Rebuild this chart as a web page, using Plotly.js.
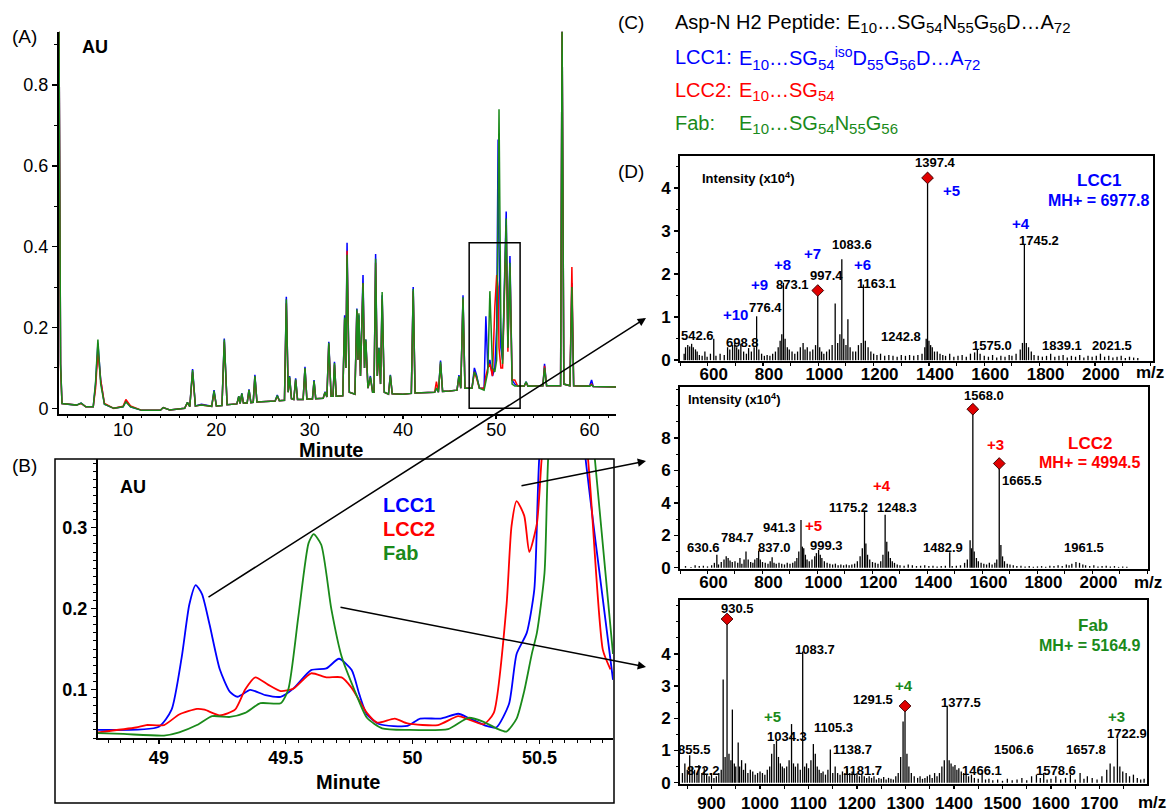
<!DOCTYPE html>
<html><head><meta charset="utf-8">
<script src="https://cdn.plot.ly/plotly-3.0.1.min.js"></script>
<style>html,body{margin:0;padding:0;background:#fff;}#chart{width:1168px;height:812px;}</style>
</head><body><div id="chart"></div>
<script>
// ---------- Panel A: full chromatogram (minute, AU) ----------
const chromTime = [3.13,3.30,3.45,4.0,5.0,5.5,6.0,6.8,7.05,7.3,7.6,8.0,9.0,10.0,10.3,10.8,12.0,14.0,14.3,15.0,16.6,16.9,17.15,17.45,17.75,18.4,19.5,19.75,20.0,20.6,20.85,21.15,22.2,22.4,22.55,22.73,22.9,23.3,23.5,23.7,23.95,24.13,24.35,26.3,26.53,26.75,27.3,27.5,27.7,27.85,28.05,28.3,28.5,28.7,29.3,29.5,29.7,30.3,30.47,30.65,31.45,31.65,31.85,32.05,32.3,32.5,32.66,32.85,33.55,33.75,33.88,34.01,34.25,34.85,35.06,35.18,35.28,35.45,35.72,35.88,36.02,36.25,36.51,36.75,36.9,37.07,37.25,37.43,37.6,37.77,38.0,38.45,38.65,38.85,40.0,40.9,41.1,41.3,43.4,43.59,43.8,44.03,44.25,45.0,45.8,46.0,46.2,46.44,46.65,47.4,47.66,47.88,48.2,48.7,48.89,49.1,49.32,49.6,49.85,50.05,50.2,50.3,50.5,50.68,51.07,51.25,51.47,51.7,51.99,52.3,53.0,53.2,53.4,55.0,55.18,55.4,56.9,57.06,57.25,57.9,58.11,58.3,60.0,60.22,60.4,62.84];
const chromLCC1 = [0.95,0.11,0.012,0.01,0.008,0.013,0.004,0.004,0.06,0.16,0.07,0.01,0.0,0.004,0.018,0.004,-0.005,-0.005,0.002,-0.004,0.0,0.015,0.004,0.097,0.006,0.01,0.005,0.045,0.006,0.007,0.173,0.009,0.011,0.03,0.012,0.037,0.013,0.013,0.047,0.014,0.015,0.083,0.016,0.018,0.033,0.019,0.02,0.276,0.04,0.08,0.024,0.022,0.074,0.022,0.022,0.103,0.023,0.023,0.07,0.024,0.025,0.041,0.028,0.165,0.03,0.03,0.115,0.03,0.031,0.23,0.1,0.41,0.04,0.035,0.247,0.12,0.23,0.08,0.33,0.1,0.17,0.05,0.08,0.04,0.04,0.382,0.08,0.15,0.06,0.28,0.04,0.035,0.083,0.036,0.035,0.037,0.3,0.038,0.04,0.05,0.04,0.118,0.042,0.043,0.045,0.082,0.05,0.28,0.05,0.05,0.1,0.083,0.05,0.05,0.228,0.1,0.12,0.08,0.1,0.2,0.665,0.4,0.15,0.12,0.487,0.15,0.377,0.07,0.06,0.055,0.055,0.066,0.055,0.056,0.11,0.056,0.056,0.95,0.06,0.056,0.31,0.056,0.055,0.07,0.054,0.053];
const chromLCC2 = [0.95,0.10,0.012,0.01,0.008,0.012,0.004,0.004,0.05,0.14,0.07,0.012,0.0,0.005,0.022,0.006,-0.005,-0.005,0.002,-0.004,0.0,0.014,0.004,0.09,0.006,0.008,0.005,0.04,0.006,0.007,0.165,0.009,0.011,0.028,0.012,0.035,0.013,0.013,0.045,0.014,0.015,0.078,0.016,0.018,0.03,0.019,0.02,0.26,0.04,0.075,0.024,0.022,0.07,0.022,0.022,0.098,0.023,0.023,0.066,0.024,0.025,0.04,0.028,0.158,0.03,0.03,0.108,0.03,0.031,0.22,0.1,0.39,0.04,0.035,0.24,0.12,0.22,0.08,0.31,0.1,0.165,0.05,0.075,0.04,0.04,0.36,0.08,0.14,0.06,0.27,0.04,0.035,0.08,0.036,0.035,0.037,0.29,0.038,0.04,0.066,0.04,0.11,0.042,0.043,0.045,0.078,0.05,0.27,0.05,0.05,0.09,0.075,0.05,0.05,0.08,0.1,0.11,0.08,0.25,0.33,0.3,0.15,0.1,0.1,0.45,0.14,0.35,0.07,0.07,0.055,0.055,0.064,0.055,0.056,0.105,0.056,0.056,0.95,0.06,0.056,0.35,0.056,0.055,0.06,0.054,0.053];
const chromFab  = [0.95,0.11,0.012,0.01,0.008,0.013,0.004,0.004,0.065,0.17,0.06,0.01,0.0,0.004,0.016,0.004,-0.005,-0.005,0.002,-0.004,0.0,0.015,0.004,0.095,0.006,0.008,0.005,0.043,0.006,0.007,0.17,0.009,0.011,0.03,0.012,0.037,0.013,0.013,0.046,0.014,0.015,0.08,0.016,0.018,0.032,0.019,0.02,0.27,0.04,0.078,0.024,0.022,0.072,0.022,0.022,0.1,0.023,0.023,0.068,0.024,0.025,0.04,0.028,0.162,0.03,0.03,0.112,0.03,0.031,0.225,0.1,0.38,0.04,0.035,0.245,0.12,0.235,0.08,0.31,0.1,0.17,0.05,0.078,0.04,0.04,0.37,0.08,0.15,0.06,0.288,0.04,0.035,0.082,0.036,0.035,0.037,0.295,0.038,0.04,0.05,0.04,0.115,0.042,0.043,0.045,0.08,0.05,0.275,0.05,0.05,0.09,0.08,0.05,0.045,0.07,0.09,0.29,0.1,0.09,0.12,0.5,0.74,0.2,0.11,0.47,0.15,0.36,0.06,0.055,0.055,0.055,0.066,0.055,0.056,0.1,0.056,0.056,0.95,0.06,0.056,0.3,0.056,0.055,0.058,0.054,0.053];

// ---------- Panel B: zoomed region (minute, AU) ----------
const zoomTimeLCC1 = [48.76,49.0,49.05,49.09,49.12,49.145,49.17,49.2,49.24,49.28,49.31,49.36,49.42,49.48,49.53,49.6,49.66,49.71,49.76,49.79,49.82,49.87,49.98,50.03,50.11,50.18,50.22,50.29,50.33,50.38,50.41,50.45,50.48,50.5,50.59,50.68,50.72,50.79];
const zoomAuLCC1   = [0.050,0.054,0.075,0.14,0.205,0.229,0.218,0.18,0.125,0.097,0.091,0.0995,0.093,0.091,0.101,0.124,0.126,0.138,0.124,0.094,0.069,0.057,0.055,0.064,0.064,0.07,0.065,0.055,0.053,0.082,0.144,0.17,0.224,0.39,0.665,0.39,0.286,0.112];
const zoomTimeLCC2 = [48.76,48.91,48.95,49.02,49.08,49.15,49.18,49.24,49.3,49.34,49.38,49.43,49.48,49.53,49.6,49.66,49.72,49.76,49.82,49.86,49.93,49.98,50.1,50.18,50.22,50.28,50.32,50.37,50.39,50.41,50.44,50.46,50.49,50.51,50.59,50.69,50.75,50.78];
const zoomAuLCC2   = [0.047,0.053,0.056,0.056,0.069,0.076,0.075,0.068,0.075,0.1,0.115,0.106,0.098,0.101,0.12,0.115,0.115,0.102,0.071,0.059,0.064,0.058,0.056,0.067,0.063,0.057,0.071,0.203,0.302,0.333,0.315,0.27,0.305,0.39,0.62,0.39,0.149,0.125];
const zoomTimeFab  = [48.76,48.86,49.02,49.08,49.15,49.21,49.28,49.34,49.4,49.48,49.51,49.55,49.59,49.61,49.64,49.68,49.72,49.77,49.82,49.88,49.98,50.14,50.22,50.28,50.33,50.37,50.41,50.44,50.47,50.49,50.52,50.535,50.62,50.717,50.79];
const zoomAuFab    = [0.046,0.045,0.043,0.047,0.056,0.067,0.066,0.071,0.083,0.083,0.1,0.191,0.281,0.292,0.279,0.199,0.141,0.1,0.065,0.052,0.05,0.051,0.065,0.06,0.052,0.048,0.064,0.098,0.144,0.17,0.244,0.39,0.74,0.39,0.144];

// ---------- Panel D: MS spectra (m/z, intensity) ----------
const msLCC1Mz  = [515,520,528,535,542,548,556,562,570,580,590,598,610,622,630,645,660,672,680,690,698,705,712,720,730,740,748,758,768,777,785,795,805,815,825,835,845,855,862,868,874,880,888,895,905,915,925,935,945,952,960,970,980,990,998,1005,1012,1020,1030,1040,1050,1061,1070,1078,1085,1092,1100,1107,1115,1125,1135,1145,1155,1163,1170,1180,1190,1200,1212,1225,1240,1255,1270,1285,1300,1315,1330,1345,1360,1375,1385,1390,1395,1400,1406,1412,1420,1430,1440,1450,1460,1475,1490,1505,1520,1535,1550,1565,1575,1585,1600,1615,1630,1645,1660,1675,1690,1700,1715,1730,1738,1745,1752,1760,1770,1780,1795,1810,1825,1840,1855,1870,1885,1900,1915,1930,1945,1960,1975,1990,2005,2020,2035,2050,2065,2080,2095,2110,2125,2140,2155];
const msLCC1Int = [0.15,0.3,0.35,0.32,0.38,0.3,0.25,0.2,0.12,0.1,0.2,0.08,0.15,0.5,0.1,0.15,0.12,0.3,0.25,0.35,0.4,0.3,0.25,0.38,0.2,0.15,0.28,0.2,0.3,1.02,0.25,0.15,0.1,0.12,0.1,0.15,0.2,0.3,0.45,0.6,1.8,0.5,0.3,0.25,0.2,0.15,0.2,0.3,0.4,0.25,0.3,0.2,0.25,0.35,1.62,0.3,0.2,0.15,0.2,0.25,0.35,1.32,0.4,0.6,2.35,0.5,0.35,0.95,0.3,0.2,0.2,0.35,0.4,1.76,0.45,0.3,0.2,0.15,0.12,0.15,0.1,0.12,0.1,0.08,0.12,0.1,0.12,0.1,0.12,0.15,0.3,0.5,4.24,0.45,0.35,0.3,0.2,0.2,0.15,0.12,0.1,0.15,0.08,0.1,0.12,0.08,0.15,0.18,0.25,0.15,0.1,0.08,0.12,0.06,0.1,0.08,0.12,0.1,0.15,0.25,0.4,2.68,0.4,0.3,0.2,0.12,0.1,0.08,0.1,0.15,0.08,0.1,0.12,0.06,0.1,0.08,0.12,0.06,0.1,0.08,0.1,0.15,0.08,0.1,0.06,0.08,0.1,0.05,0.08,0.06,0.05];
const msLCC2Mz  = [520,540,555,570,585,600,615,625,634,640,650,660,668,675,682,690,700,710,718,725,733,740,748,757,765,772,780,786,792,800,810,820,828,835,842,850,860,870,880,890,900,910,918,925,932,940,945,950,956,962,970,980,990,996,1004,1010,1016,1025,1035,1045,1055,1065,1075,1085,1095,1105,1115,1125,1135,1145,1155,1163,1171,1176,1182,1190,1200,1210,1220,1230,1238,1246,1252,1258,1265,1272,1280,1290,1300,1315,1330,1345,1360,1375,1390,1405,1420,1435,1450,1465,1481,1490,1505,1520,1535,1545,1555,1560,1565,1570,1578,1585,1595,1605,1615,1625,1635,1645,1652,1661,1667,1673,1680,1690,1700,1712,1725,1740,1755,1770,1785,1800,1815,1830,1845,1860,1875,1890,1905,1915,1925,1940,1953,1965,1975,1990,2005,2020,2035,2050,2065,2080,2095,2110,2125];
const msLCC2Int = [0.1,0.05,0.15,0.1,0.12,0.08,0.15,0.3,0.8,0.2,0.35,0.5,0.7,0.6,0.45,0.35,0.4,0.3,0.6,0.25,0.5,1.0,0.5,0.35,0.3,0.5,0.6,1.05,0.5,0.35,0.3,0.25,0.4,0.65,0.3,0.25,0.3,0.25,0.2,0.3,0.25,0.3,0.4,0.6,1.0,2.95,1.3,1.2,0.8,0.5,0.4,0.5,0.7,0.9,1.1,0.8,0.6,0.4,0.3,0.25,0.2,0.25,0.15,0.2,0.15,0.2,0.15,0.2,0.25,0.4,0.7,1.2,3.52,1.5,0.8,0.5,0.35,0.3,0.25,0.4,0.8,3.27,1.6,1.0,0.6,0.4,0.3,0.2,0.15,0.12,0.2,0.15,0.1,0.12,0.15,0.1,0.12,0.08,0.1,0.12,0.95,0.1,0.12,0.15,0.3,0.5,1.7,1.2,9.78,1.0,0.6,0.4,0.3,0.25,0.2,0.3,0.2,0.3,0.5,6.43,1.4,0.7,0.4,0.25,0.2,0.15,0.1,0.12,0.08,0.1,0.06,0.08,0.1,0.06,0.12,0.1,0.15,0.1,0.2,0.15,0.25,0.35,0.3,0.2,0.15,0.1,0.15,0.08,0.1,0.12,0.08,0.1,0.05,0.08,0.06];
const msFabMz   = [840,845,850,855,860,865,870,874,880,885,890,895,900,905,910,915,920,924,928,932,936,940,943,947,950,955,958,962,966,970,975,980,985,990,995,1000,1005,1010,1015,1020,1024,1029,1034,1038,1042,1046,1050,1055,1060,1065,1069,1073,1078,1083,1088,1092,1096,1100,1105,1110,1114,1118,1122,1126,1130,1135,1140,1145,1150,1155,1160,1165,1170,1175,1180,1185,1190,1195,1200,1205,1210,1215,1220,1225,1230,1235,1240,1245,1250,1255,1260,1265,1270,1275,1280,1285,1290,1295,1299,1303,1307,1312,1318,1325,1330,1335,1340,1345,1350,1355,1360,1365,1370,1375,1380,1386,1390,1394,1398,1402,1406,1410,1415,1420,1425,1430,1436,1442,1450,1458,1465,1472,1480,1490,1500,1510,1520,1530,1540,1550,1560,1570,1578,1585,1592,1600,1610,1620,1630,1640,1650,1660,1668,1675,1685,1695,1705,1715,1722,1730,1737,1742,1748,1755,1762,1770,1778,1785,1792];
const msFabInt  = [0.3,0.6,0.4,0.85,0.5,0.4,0.3,0.55,0.3,0.45,0.25,0.2,0.3,0.15,0.2,0.3,0.4,3.2,0.8,5.08,0.9,0.7,2.27,0.6,0.5,1.25,0.5,0.7,0.4,0.6,0.3,0.4,0.35,0.25,0.3,0.35,0.3,0.25,0.4,0.5,0.9,1.2,1.3,0.8,0.6,0.5,0.45,0.5,0.7,1.82,0.6,0.5,0.6,0.4,4.07,0.5,0.6,0.45,0.7,1.2,0.9,0.5,0.4,0.3,0.35,0.25,0.4,1.03,0.3,0.5,0.3,0.25,0.35,0.3,0.45,0.3,0.35,0.25,0.3,0.2,0.25,0.2,0.15,0.2,0.15,0.2,0.1,0.15,0.12,0.18,0.1,0.15,0.12,0.1,0.2,0.3,0.8,1.9,2.38,0.9,0.5,0.3,0.2,0.15,0.2,0.12,0.15,0.2,0.25,0.15,0.3,0.2,0.3,0.5,0.7,2.36,0.7,0.6,0.5,0.55,0.4,0.45,0.35,0.3,0.25,0.2,0.25,0.15,0.12,0.3,0.1,0.12,0.08,0.1,0.06,0.12,0.08,0.1,0.15,0.08,0.2,0.25,0.15,0.3,0.1,0.12,0.2,0.1,0.15,0.25,0.1,0.3,0.12,0.2,0.15,0.1,0.2,0.4,0.6,0.5,1.38,0.5,0.35,0.3,0.2,0.25,0.15,0.1,0.12];

// marked (diamond) peaks
const markLCC1Mz = [998,1395], markLCC1Int = [1.62,4.24];
const markLCC2Mz = [1565,1661], markLCC2Int = [9.78,6.43];
const markFabMz  = [932,1299], markFabInt  = [5.08,2.38];

// peak labels (text, m/z, intensity where label sits)
const lblLCC1Text = ['1397.4','1083.6','997.4','1163.1','873.1','776.4','542.6','698.8','1242.8','1575.0','1839.1','2021.5','1745.2'];
const lblLCC1Mz   = [1422,1121,1028,1210,907,810,562,725,1298,1627,1881,2063,1797];
const lblLCC1Int  = [4.6,2.68,1.98,1.78,1.76,1.23,0.58,0.4,0.56,0.35,0.35,0.35,2.78];
const chgLCC1Text = ['+10','+9','+8','+7','+6','+5','+4'];
const chgLCC1Mz   = [699,788,871,980,1161,1480,1734];
const chgLCC1Int  = [1.06,1.76,2.23,2.48,2.23,3.95,3.18];

const lblLCC2Text = ['1568.0','1665.5','1175.2','1248.3','941.3','784.7','630.6','837.0','999.3','1482.9','1961.5'];
const lblLCC2Mz   = [1604,1744,1111,1288,863,710,585,844,1034,1455,1971];
const lblLCC2Int  = [10.6,5.37,3.72,3.72,2.5,1.88,1.26,1.26,1.36,1.26,1.26];
const chgLCC2Text = ['+3','+4','+5'];
const chgLCC2Mz   = [1647,1234,985];
const chgLCC2Int  = [7.62,5.06,2.59];

const lblFabText = ['930.5','1083.7','1105.3','1034.3','1138.7','855.5','872.2','1181.7','1291.5','1377.5','1466.1','1506.6','1657.8','1578.6','1722.9'];
const lblFabMz   = [954,1113,1152,1055,1190,864,884,1212,1233,1415,1457,1523,1672,1610,1756];
const lblFabInt  = [5.42,4.14,1.72,1.43,1.03,1.03,0.39,0.39,2.57,2.49,0.39,1.03,1.03,0.39,1.53];
const chgFabText = ['+5','+4','+3'];
const chgFabMz   = [1025,1297,1735];
const chgFabInt  = [2.05,3.03,2.05];

// ---------- drawing ----------
const W = 1168, H = 812;
const BLUE = '#0000ff', RED = '#ff0000', GREEN = '#1a8a1a';
const FONT = 'Liberation Sans, Arial, sans-serif';
const px = x => x / W, py = y => 1 - y / H;

function sticks(mz, inten) {
  const x = [], y = [];
  for (let i = 0; i < mz.length; i++) { x.push(mz[i], mz[i], null); y.push(0, inten[i], null); }
  return {x, y};
}

const traces = [];
[[chromLCC1, BLUE], [chromLCC2, RED], [chromFab, GREEN]].forEach(([v, c]) => {
  traces.push({x: chromTime, y: v, type: 'scatter', mode: 'lines', line: {color: c, width: 1.5}, xaxis: 'x', yaxis: 'y', hoverinfo: 'skip'});
});
[[zoomTimeLCC1, zoomAuLCC1, BLUE], [zoomTimeLCC2, zoomAuLCC2, RED], [zoomTimeFab, zoomAuFab, GREEN]].forEach(([t, v, c]) => {
  traces.push({x: t, y: v, type: 'scatter', mode: 'lines', line: {color: c, width: 1.8, shape: 'spline', smoothing: 0.6}, xaxis: 'x2', yaxis: 'y2', hoverinfo: 'skip'});
});
[[msLCC1Mz, msLCC1Int, markLCC1Mz, markLCC1Int, 3], [msLCC2Mz, msLCC2Int, markLCC2Mz, markLCC2Int, 4], [msFabMz, msFabInt, markFabMz, markFabInt, 5]].forEach(([mz, it, mmz, mit, k]) => {
  const s = sticks(mz, it);
  traces.push({x: s.x, y: s.y, type: 'scatter', mode: 'lines', line: {color: '#000', width: 1.3}, xaxis: 'x' + k, yaxis: 'y' + k, hoverinfo: 'skip', connectgaps: false});
  traces.push({x: mmz, y: mit, type: 'scatter', mode: 'markers', marker: {symbol: 'diamond', size: 9, color: '#e00000', line: {color: '#400000', width: 1}}, xaxis: 'x' + k, yaxis: 'y' + k, hoverinfo: 'skip'});
});

const annotations = [];
function txt(x, y, text, opts) {
  annotations.push(Object.assign({xref: 'paper', yref: 'paper', x: px(x), y: py(y), text: text, showarrow: false, xanchor: 'left', yanchor: 'middle',
    font: {family: FONT, size: 18, color: '#000'}}, opts || {}));
}
txt(10, 37, '(A)', {font: {family: FONT, size: 19, color: '#000'}});
txt(10, 465, '(B)', {font: {family: FONT, size: 19, color: '#000'}});
txt(616, 22, '(C)', {font: {family: FONT, size: 19, color: '#000'}});
txt(616, 171, '(D)', {font: {family: FONT, size: 19, color: '#000'}});
txt(95, 47, 'AU', {xanchor: 'center', font: {family: FONT, size: 18, color: '#000', weight: 'bold'}});
txt(331, 450, 'Minute', {xanchor: 'center', font: {family: FONT, size: 20, color: '#000', weight: 'bold'}});
txt(133, 487, 'AU', {xanchor: 'center', font: {family: FONT, size: 18, color: '#000', weight: 'bold'}});
txt(348, 782, 'Minute', {xanchor: 'center', font: {family: FONT, size: 20, color: '#000', weight: 'bold'}});
txt(381, 505, 'LCC1', {font: {family: FONT, size: 20, color: BLUE, weight: 'bold'}});
txt(381, 529, 'LCC2', {font: {family: FONT, size: 20, color: RED, weight: 'bold'}});
txt(381, 553, 'Fab', {font: {family: FONT, size: 20, color: GREEN, weight: 'bold'}});
// Panel C
const cf = c => ({family: FONT, size: 20, color: c});
const sb = s => '<sub><span style="font-size:15px">' + s + '</span></sub>';
const sp = s => '<sup><span style="font-size:14px">' + s + '</span></sup>';
const EL = '\u2026';
txt(673, 22, 'Asp-N H2 Peptide:', {font: cf('#000')});
txt(845, 24, 'E' + sb('10') + EL + 'SG' + sb('54') + 'N' + sb('55') + 'G' + sb('56') + 'D' + EL + 'A' + sb('72'), {font: cf('#000')});
txt(673, 57, 'LCC1:', {font: cf(BLUE)});
txt(737, 59, 'E' + sb('10') + EL + 'SG' + sb('54') + sp('iso') + 'D' + sb('55') + 'G' + sb('56') + 'D' + EL + 'A' + sb('72'), {font: cf(BLUE)});
txt(673, 90, 'LCC2:', {font: cf(RED)});
txt(737, 92, 'E' + sb('10') + EL + 'SG' + sb('54'), {font: cf(RED)});
txt(673, 123, 'Fab:', {font: cf(GREEN)});
txt(737, 125, 'E' + sb('10') + EL + 'SG' + sb('54') + 'N' + sb('55') + 'G' + sb('56'), {font: cf(GREEN)});
// Panel D headers
txt(700, 178, 'Intensity (x10<sup>4</sup>)', {font: {family: FONT, size: 13, color: '#000', weight: 'bold'}});
txt(686, 399, 'Intensity (x10<sup>4</sup>)', {font: {family: FONT, size: 13, color: '#000', weight: 'bold'}});
txt(1099, 180, 'LCC1', {xanchor: 'center', font: {family: FONT, size: 17, color: BLUE, weight: 'bold'}});
txt(1099, 201, 'MH+ = 6977.8', {xanchor: 'center', font: {family: FONT, size: 16, color: BLUE, weight: 'bold'}});
txt(1090, 443, 'LCC2', {xanchor: 'center', font: {family: FONT, size: 17, color: RED, weight: 'bold'}});
txt(1090, 462, 'MH+ = 4994.5', {xanchor: 'center', font: {family: FONT, size: 16, color: RED, weight: 'bold'}});
txt(1093, 625, 'Fab', {xanchor: 'center', font: {family: FONT, size: 17, color: GREEN, weight: 'bold'}});
txt(1090, 645, 'MH+ = 5164.9', {xanchor: 'center', font: {family: FONT, size: 16, color: GREEN, weight: 'bold'}});
txt(1150, 372, 'm/z', {xanchor: 'center', font: {family: FONT, size: 17, color: '#000', weight: 'bold'}});
txt(1148, 582, 'm/z', {xanchor: 'center', font: {family: FONT, size: 17, color: '#000', weight: 'bold'}});
txt(1152, 802, 'm/z', {xanchor: 'center', font: {family: FONT, size: 17, color: '#000', weight: 'bold'}});

function dataLabels(texts, xs, ys, k, color, size) {
  texts.forEach((t, i) => annotations.push({xref: 'x' + k, yref: 'y' + k, x: xs[i], y: ys[i], text: t, showarrow: false,
    xanchor: 'center', yanchor: 'middle', font: {family: FONT, size: size, color: color, weight: 'bold'}}));
}
dataLabels(lblLCC1Text, lblLCC1Mz, lblLCC1Int, 3, '#000', 13);
dataLabels(chgLCC1Text, chgLCC1Mz, chgLCC1Int, 3, BLUE, 15);
dataLabels(lblLCC2Text, lblLCC2Mz, lblLCC2Int, 4, '#000', 13);
dataLabels(chgLCC2Text, chgLCC2Mz, chgLCC2Int, 4, RED, 15);
dataLabels(lblFabText, lblFabMz, lblFabInt, 5, '#000', 13);
dataLabels(chgFabText, chgFabMz, chgFabInt, 5, GREEN, 15);

function arrow(tipX, tipY, tailX, tailY) {
  annotations.push({xref: 'paper', yref: 'paper', x: px(tipX), y: py(tipY), ax: tailX - tipX, ay: tailY - tipY, axref: 'pixel', ayref: 'pixel',
    text: '', showarrow: true, arrowhead: 2, arrowsize: 1.1, arrowwidth: 1.5, arrowcolor: '#000', standoff: 0});
}
arrow(646, 318, 207, 598);
arrow(646, 461, 520, 486);
arrow(646, 667, 339, 607);

const shapes = [
  {type: 'rect', xref: 'x', yref: 'y', x0: 47.1, x1: 52.56, y0: 0.0, y1: 0.41, line: {color: '#000', width: 1.5}},
  {type: 'rect', xref: 'paper', yref: 'paper', x0: px(55), x1: px(614), y0: py(803), y1: py(459), line: {color: '#000', width: 1.5}}
];

const baseAxis = {showgrid: false, zeroline: false, showline: true, linecolor: '#000', linewidth: 2, ticks: 'outside', tickcolor: '#000', tickwidth: 1.5, fixedrange: true};
const tf = (s, b) => ({family: FONT, size: s, color: '#000', weight: b ? 'bold' : 'normal'});
const mn = (d, l) => ({dtick: d, ticklen: l, ticks: 'outside', tickcolor: '#000', tickwidth: 1});

const layout = {
  width: W, height: H, margin: {l: 0, r: 0, t: 0, b: 0}, paper_bgcolor: '#fff', plot_bgcolor: 'rgba(0,0,0,0)',
  showlegend: false, font: {family: FONT, color: '#000'},
  xaxis: Object.assign({}, baseAxis, {domain: [px(59), px(616)], anchor: 'y', range: [3.13, 62.84], tickvals: [10, 20, 30, 40, 50, 60], ticklen: 3, ticklabelstandoff: -5, tickfont: tf(18, false), minor: mn(2, 2)}),
  yaxis: Object.assign({}, baseAxis, {domain: [py(414), py(31.7)], anchor: 'x', range: [-0.014, 0.932], tickvals: [0, 0.2, 0.4, 0.6, 0.8], ticktext: ['0', '0.2', '0.4', '0.6', '0.8'], ticklen: 5, tickfont: tf(18, false), minor: mn(0.1, 3)}),
  xaxis2: Object.assign({}, baseAxis, {domain: [px(98), px(613)], anchor: 'y2', range: [48.76, 50.79], tickvals: [49, 49.5, 50, 50.5], ticktext: ['49', '49.5', '50', '50.5'], ticklen: 4, ticklabelstandoff: -2, tickfont: tf(18, true), minor: mn(0.05, 3)}),
  yaxis2: Object.assign({}, baseAxis, {domain: [py(738), py(459)], anchor: 'x2', range: [0.04, 0.385], tickvals: [0.1, 0.2, 0.3], ticktext: ['0.1', '0.2', '0.3'], ticklen: 5, tickfont: tf(18, true), minor: mn(0.01, 3)}),
  xaxis3: Object.assign({}, baseAxis, {domain: [px(680), px(1153)], anchor: 'y3', range: [500, 2210], tickvals: [600, 800, 1000, 1200, 1400, 1600, 1800, 2000], mirror: true, ticklen: 3, ticklabelshift: 6, ticklabelstandoff: -6, tickfont: tf(17, true), minor: mn(100, 3)}),
  yaxis3: Object.assign({}, baseAxis, {domain: [py(361), py(156)], anchor: 'x3', range: [-0.02, 4.75], tickvals: [0, 1, 2, 3, 4], mirror: true, ticklen: 4, tickfont: tf(17, true), minor: mn(0.5, 2)}),
  xaxis4: Object.assign({}, baseAxis, {domain: [px(680), px(1148)], anchor: 'y4', range: [500, 2202], tickvals: [600, 800, 1000, 1200, 1400, 1600, 1800, 2000], mirror: true, ticklen: 3, ticklabelshift: 6, ticklabelstandoff: -6, tickfont: tf(17, true), minor: mn(100, 3)}),
  yaxis4: Object.assign({}, baseAxis, {domain: [py(569), py(387)], anchor: 'x4', range: [-0.08, 11.15], tickvals: [0, 2, 4, 6, 8], mirror: true, ticklen: 4, tickfont: tf(17, true), minor: mn(1, 2)}),
  xaxis5: Object.assign({}, baseAxis, {domain: [px(680), px(1147)], anchor: 'y5', range: [835, 1798], tickvals: [900, 1000, 1100, 1200, 1300, 1400, 1500, 1600, 1700], mirror: true, ticklen: 3, tickfont: tf(17, true), minor: mn(50, 3)}),
  yaxis5: Object.assign({}, baseAxis, {domain: [py(784), py(600)], anchor: 'x5', range: [-0.04, 5.67], tickvals: [0, 1, 2, 3, 4], mirror: true, ticklen: 4, tickfont: tf(17, true), minor: mn(0.5, 2)}),
  annotations: annotations,
  shapes: shapes
};

Plotly.newPlot('chart', traces, layout, {staticPlot: true, displayModeBar: false});
</script>
</body></html>
